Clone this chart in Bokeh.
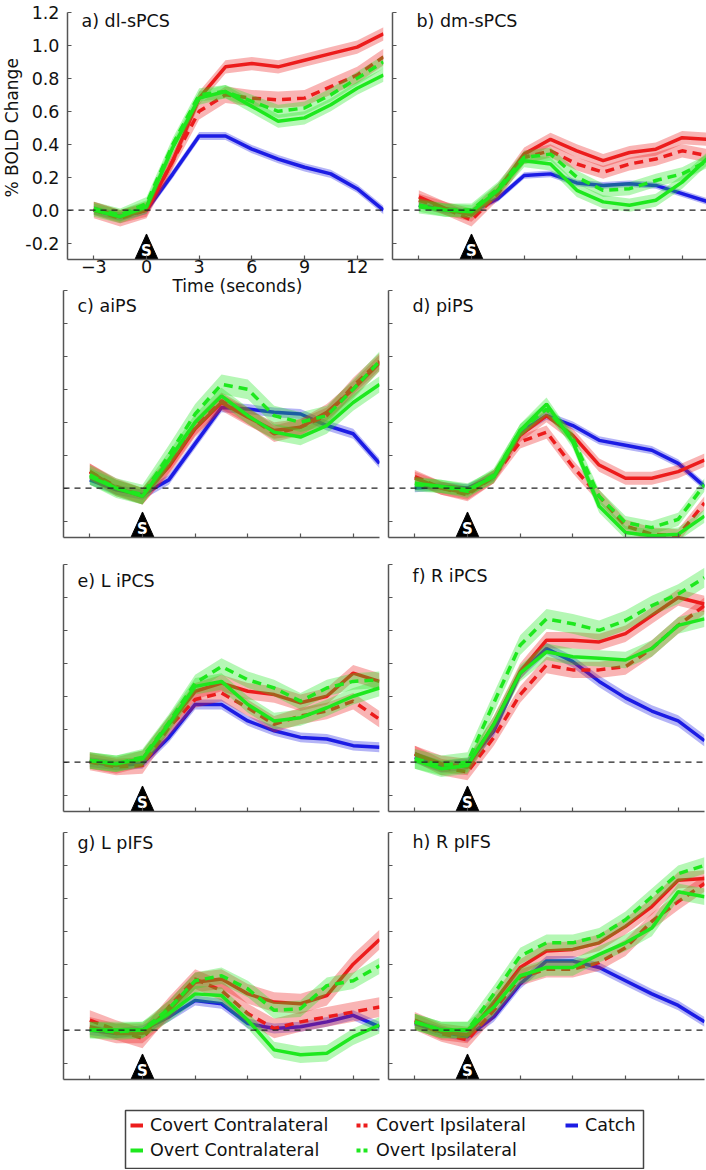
import math
from bokeh.plotting import figure
from bokeh.layouts import column, row
from bokeh.models import (Range1d, FixedTicker, Span, Label, Legend, LegendItem,
                          PrintfTickFormatter, Title)
from bokeh.embed import file_html
from bokeh.resources import INLINE
from bokeh.core.properties import value

# ---------------- data ----------------
TIME = [-3, -1.5, 0, 1.5, 3, 4.5, 6, 7.5, 9, 10.5, 12, 13.5]
STIM_T = 0
X_RANGE = (-4.5, 13.5)
Y_RANGE = (-0.3, 1.2)
X_TICKS = [-3, 0, 3, 6, 9, 12]
Y_TICKS = [-0.2, 0.0, 0.2, 0.4, 0.6, 0.8, 1.0, 1.2]

SERIES = ["Catch", "Covert Contralateral", "Covert Ipsilateral",
          "Overt Contralateral", "Overt Ipsilateral"]

PANEL_TITLES = ["a) dl-sPCS", "b) dm-sPCS", "c) aiPS", "d) piPS",
                "e) L iPCS", "f) R iPCS", "g) L pIFS", "h) R pIFS"]
X_LABEL = "Time (seconds)"
Y_LABEL = "% BOLD Change"

# a) dl-sPCS
a_catch   = [0.00, -0.04, 0.00, 0.22, 0.45, 0.45, 0.37, 0.31, 0.26, 0.22, 0.13, 0.00]
a_cov_con = [0.01, -0.04, 0.00, 0.30, 0.68, 0.87, 0.89, 0.87, 0.91, 0.95, 0.99, 1.07]
a_cov_ips = [0.00, -0.05, 0.00, 0.30, 0.60, 0.70, 0.68, 0.67, 0.68, 0.75, 0.82, 0.93]
a_ovt_con = [0.00, -0.04, 0.02, 0.38, 0.68, 0.72, 0.63, 0.54, 0.56, 0.64, 0.74, 0.82]
a_ovt_ips = [0.01, -0.03, 0.04, 0.40, 0.70, 0.72, 0.66, 0.60, 0.62, 0.70, 0.80, 0.90]
a_sem     = [0.025, 0.04, 0.05, 0.04, 0.04]
# b) dm-sPCS
b_catch   = [0.03, 0.00, -0.01, 0.07, 0.21, 0.22, 0.165, 0.15, 0.16, 0.15, 0.10, 0.05]
b_cov_con = [0.08, 0.01, -0.03, 0.12, 0.34, 0.43, 0.36, 0.30, 0.35, 0.37, 0.44, 0.43]
b_cov_ips = [0.06, 0.01, -0.06, 0.10, 0.32, 0.36, 0.28, 0.23, 0.28, 0.31, 0.36, 0.33]
b_ovt_con = [0.02, 0.00, -0.01, 0.12, 0.30, 0.28, 0.12, 0.05, 0.03, 0.06, 0.17, 0.32]
b_ovt_ips = [0.03, 0.00, 0.00, 0.13, 0.32, 0.34, 0.20, 0.12, 0.13, 0.18, 0.22, 0.30]
b_sem     = [0.02, 0.04, 0.04, 0.04, 0.04]
# c) aiPS
c_catch   = [0.05, -0.01, -0.04, 0.05, 0.27, 0.49, 0.48, 0.46, 0.45, 0.38, 0.33, 0.15]
c_cov_con = [0.10, 0.00, -0.05, 0.13, 0.36, 0.52, 0.43, 0.35, 0.37, 0.46, 0.60, 0.76]
c_cov_ips = [0.10, 0.01, -0.05, 0.14, 0.37, 0.53, 0.44, 0.33, 0.37, 0.44, 0.62, 0.77]
c_ovt_con = [0.07, 0.00, -0.05, 0.17, 0.40, 0.56, 0.44, 0.34, 0.31, 0.38, 0.52, 0.63]
c_ovt_ips = [0.08, 0.00, -0.04, 0.20, 0.45, 0.63, 0.60, 0.44, 0.40, 0.44, 0.60, 0.77]
c_sem     = [0.03, 0.05, 0.05, 0.05, 0.06]
# d) piPS
d_catch   = [0.00, 0.01, 0.00, 0.07, 0.34, 0.44, 0.38, 0.29, 0.26, 0.23, 0.15, 0.01]
d_cov_con = [0.06, 0.00, -0.03, 0.07, 0.32, 0.44, 0.32, 0.14, 0.06, 0.06, 0.10, 0.17]
d_cov_ips = [0.07, 0.00, -0.04, 0.07, 0.28, 0.34, 0.13, -0.05, -0.23, -0.28, -0.29, -0.09]
d_ovt_con = [0.03, 0.01, -0.01, 0.07, 0.35, 0.51, 0.28, -0.11, -0.27, -0.29, -0.28, -0.17]
d_ovt_ips = [0.02, 0.01, -0.02, 0.08, 0.35, 0.48, 0.30, -0.05, -0.21, -0.24, -0.19, 0.02]
d_sem     = [0.025, 0.04, 0.04, 0.04, 0.04]
# e) L iPCS
e_catch   = [0.00, -0.02, -0.01, 0.15, 0.35, 0.35, 0.25, 0.19, 0.15, 0.14, 0.10, 0.09]
e_cov_con = [0.01, -0.02, 0.02, 0.23, 0.43, 0.48, 0.43, 0.41, 0.36, 0.40, 0.54, 0.49]
e_cov_ips = [0.00, -0.03, -0.02, 0.21, 0.38, 0.42, 0.33, 0.23, 0.28, 0.31, 0.37, 0.26]
e_ovt_con = [0.01, -0.01, 0.02, 0.23, 0.46, 0.49, 0.35, 0.25, 0.27, 0.33, 0.40, 0.45]
e_ovt_ips = [0.01, -0.01, 0.03, 0.24, 0.48, 0.58, 0.50, 0.45, 0.37, 0.45, 0.49, 0.50]
e_sem     = [0.03, 0.05, 0.05, 0.05, 0.05]
# f) R iPCS
f_catch   = [0.03, -0.03, -0.01, 0.19, 0.54, 0.69, 0.61, 0.49, 0.39, 0.31, 0.25, 0.13]
f_cov_con = [0.05, -0.01, -0.03, 0.23, 0.55, 0.74, 0.74, 0.73, 0.78, 0.89, 1.00, 0.96]
f_cov_ips = [0.05, -0.03, -0.06, 0.15, 0.41, 0.59, 0.56, 0.56, 0.58, 0.69, 0.83, 0.95]
f_ovt_con = [0.01, -0.04, -0.02, 0.23, 0.54, 0.67, 0.64, 0.63, 0.62, 0.69, 0.83, 0.87]
f_ovt_ips = [0.02, -0.02, 0.00, 0.36, 0.71, 0.87, 0.84, 0.80, 0.86, 0.95, 1.02, 1.12]
f_sem     = [0.035, 0.05, 0.05, 0.05, 0.06]
# g) L pIFS
g_catch   = [0.00, -0.02, 0.00, 0.08, 0.18, 0.16, 0.04, 0.01, 0.02, 0.05, 0.09, 0.02]
g_cov_con = [0.02, -0.02, -0.02, 0.12, 0.29, 0.31, 0.22, 0.17, 0.16, 0.21, 0.40, 0.55]
g_cov_ips = [0.06, 0.00, -0.05, 0.14, 0.31, 0.24, 0.10, 0.01, 0.05, 0.08, 0.11, 0.14]
g_ovt_con = [0.00, 0.00, 0.00, 0.10, 0.22, 0.21, 0.06, -0.12, -0.15, -0.14, -0.04, 0.03]
g_ovt_ips = [0.00, -0.01, 0.00, 0.13, 0.30, 0.33, 0.25, 0.12, 0.13, 0.27, 0.30, 0.39]
g_sem     = [0.03, 0.06, 0.06, 0.05, 0.05]
# h) R pIFS
h_catch   = [0.04, -0.01, -0.04, 0.08, 0.28, 0.42, 0.42, 0.38, 0.30, 0.22, 0.15, 0.05]
h_cov_con = [0.06, -0.01, -0.03, 0.17, 0.38, 0.48, 0.49, 0.53, 0.63, 0.75, 0.91, 0.92]
h_cov_ips = [0.05, -0.02, -0.06, 0.12, 0.32, 0.37, 0.37, 0.41, 0.50, 0.66, 0.78, 0.89]
h_ovt_con = [0.05, 0.00, 0.00, 0.14, 0.33, 0.38, 0.38, 0.46, 0.53, 0.62, 0.84, 0.81]
h_ovt_ips = [0.05, 0.00, 0.00, 0.22, 0.45, 0.53, 0.53, 0.57, 0.67, 0.81, 0.95, 1.00]
h_sem     = [0.03, 0.05, 0.05, 0.05, 0.05]

PANEL_DATA = [
    (a_catch, a_cov_con, a_cov_ips, a_ovt_con, a_ovt_ips),
    (b_catch, b_cov_con, b_cov_ips, b_ovt_con, b_ovt_ips),
    (c_catch, c_cov_con, c_cov_ips, c_ovt_con, c_ovt_ips),
    (d_catch, d_cov_con, d_cov_ips, d_ovt_con, d_ovt_ips),
    (e_catch, e_cov_con, e_cov_ips, e_ovt_con, e_ovt_ips),
    (f_catch, f_cov_con, f_cov_ips, f_ovt_con, f_ovt_ips),
    (g_catch, g_cov_con, g_cov_ips, g_ovt_con, g_ovt_ips),
    (h_catch, h_cov_con, h_cov_ips, h_ovt_con, h_ovt_ips),
]
PANEL_SEM = [a_sem, b_sem, c_sem, d_sem, e_sem, f_sem, g_sem, h_sem]

# ---------------- style ----------------
FONT = "DejaVu Sans"
FS = "17.5px"
TXT = "#111111"
AXIS_COLOR = "#555555"
RED = "#ec1c1c"
GREEN = "#1ee81e"
BLUE = "#1c1ce4"
COLORS = [BLUE, RED, RED, GREEN, GREEN]
DASHES = ["solid", "solid", "9 6", "solid", "9 6"]
TITLE_DY = [2, 2, -5, -5, -6, -1, 0, 1]
TITLE_DX = [14, 24]
FRAME_W = 316
FRAME_H = 247
ROW_TOP = [12, 2, 2, 2]
ROW_BOTTOM = [42, 25, 19, 20]
TRI_HALF_W, TRI_H = 0.66, 0.155


def make_panel(i):
    col, r = i % 2, i // 2
    p = figure(frame_width=FRAME_W, frame_height=FRAME_H,
               x_range=Range1d(*X_RANGE), y_range=Range1d(*Y_RANGE),
               output_backend="svg", toolbar_location=None,
               min_border_left=63 if col == 0 else 5,
               min_border_right=4 if col == 0 else 2,
               min_border_top=ROW_TOP[r], min_border_bottom=ROW_BOTTOM[r])
    p.border_fill_color = None
    p.background_fill_color = None
    p.outline_line_color = None
    p.grid.visible = False
    for ax in (p.xaxis[0], p.yaxis[0]):
        ax.axis_line_color = AXIS_COLOR
        ax.axis_line_width = 1.5
        ax.major_tick_line_color = AXIS_COLOR
        ax.major_tick_line_width = 1.2
        ax.major_tick_in = 4
        ax.major_tick_out = 0
        ax.minor_tick_line_color = None
        ax.major_label_text_font = FONT
        ax.major_label_text_font_size = FS
        ax.major_label_text_color = TXT
    p.xaxis.ticker = FixedTicker(ticks=X_TICKS)
    p.yaxis.ticker = FixedTicker(ticks=Y_TICKS)
    p.yaxis.formatter = PrintfTickFormatter(format="%.1f")
    p.xaxis.major_label_standoff = 0
    p.yaxis.major_label_standoff = 8
    if i != 0:
        for ax in (p.xaxis[0], p.yaxis[0]):
            ax.major_label_text_color = None
            ax.major_label_text_font_size = "1px"
            ax.major_label_standoff = 0

    data, sem = PANEL_DATA[i], PANEL_SEM[i]
    for k in range(len(SERIES)):
        vals = data[k]
        lo = [v - sem[k] for v in vals]
        hi = [v + sem[k] for v in vals]
        p.varea(x=TIME, y1=lo, y2=hi, fill_color=COLORS[k], fill_alpha=0.33)
        p.line(TIME, vals, line_color=COLORS[k], line_width=3.5,
               line_dash=DASHES[k])

    p.add_layout(Span(location=0, dimension="width", line_color="#222222",
                      line_dash="6 5", line_width=1.2))

    # stimulus marker
    y0 = Y_RANGE[0]
    p.patch([STIM_T - TRI_HALF_W, STIM_T + TRI_HALF_W, STIM_T],
            [y0, y0, y0 + TRI_H], fill_color="black", line_color="black")
    p.text(x=[STIM_T], y=[y0 + 0.05], text=["S"], text_color="white",
           text_font=value(FONT), text_font_style="bold",
           text_font_size="15px", text_align="center", text_baseline="middle")

    p.add_layout(Label(x=X_RANGE[0], y=Y_RANGE[1], x_offset=TITLE_DX[col],
                       y_offset=TITLE_DY[i], text=PANEL_TITLES[i],
                       text_font=FONT, text_font_size=FS, text_color=TXT,
                       text_baseline="top", text_align="left"))
    if i == 0:
        p.add_layout(Title(text=X_LABEL, align="left", offset=105, standoff=0,
                           vertical_align="top", text_font=FONT,
                           text_font_size="17px", text_font_style="normal",
                           text_color=TXT), "below")
        p.add_layout(Title(text=Y_LABEL, align="left", offset=62, standoff=0,
                           vertical_align="middle", text_font=FONT,
                           text_font_size="17px", text_font_style="normal",
                           text_color=TXT), "left")
    return p


panels = [make_panel(i) for i in range(8)]

# ---------------- legend ----------------
# the figure's frame is the legend box; renderers sit outside the visible range
lf = figure(frame_width=518, frame_height=58,
            x_range=Range1d(100, 101), y_range=Range1d(100, 101),
            output_backend="svg", toolbar_location=None,
            x_axis_location=None, y_axis_location=None,
            min_border_left=125, min_border_right=63,
            min_border_top=11, min_border_bottom=1)
lf.grid.visible = False
lf.outline_line_color = "#444444"
lf.outline_line_width = 1.5
lf.border_fill_color = None
LEG_DASH = ["solid", "solid", "4 3", "solid", "4 3"]
rends = []
for k in range(len(SERIES)):
    rends.append(lf.line(x=TIME, y=PANEL_DATA[0][k], line_color=COLORS[k],
                         line_width=4, line_dash=LEG_DASH[k]))

LEG_COLUMNS = [[1, 3], [2, 4], [0]]
LEG_LOC = [(5, 8), (231, 8), (440, 33)]
for cols, loc in zip(LEG_COLUMNS, LEG_LOC):
    lg = Legend(items=[LegendItem(label=SERIES[k], renderers=[rends[k]]) for k in cols],
                location=loc, orientation="vertical",
                label_text_font=FONT, label_text_font_size=FS,
                label_text_color=TXT, label_height=20, glyph_height=20,
                glyph_width=13, label_standoff=7, spacing=5, padding=7,
                margin=0, border_line_color=None, background_fill_alpha=0)
    lf.add_layout(lg, "center")

layout = column(
    row(panels[0], panels[1], styles={"z-index": "2", "position": "relative"}),
    row(panels[2], panels[3], margin=(-13, 0, 0, 0),
        styles={"z-index": "1", "position": "relative"}),
    row(panels[4], panels[5]),
    row(panels[6], panels[7]),
    lf,
)

open("out.html", "w").write(file_html(layout, INLINE))
